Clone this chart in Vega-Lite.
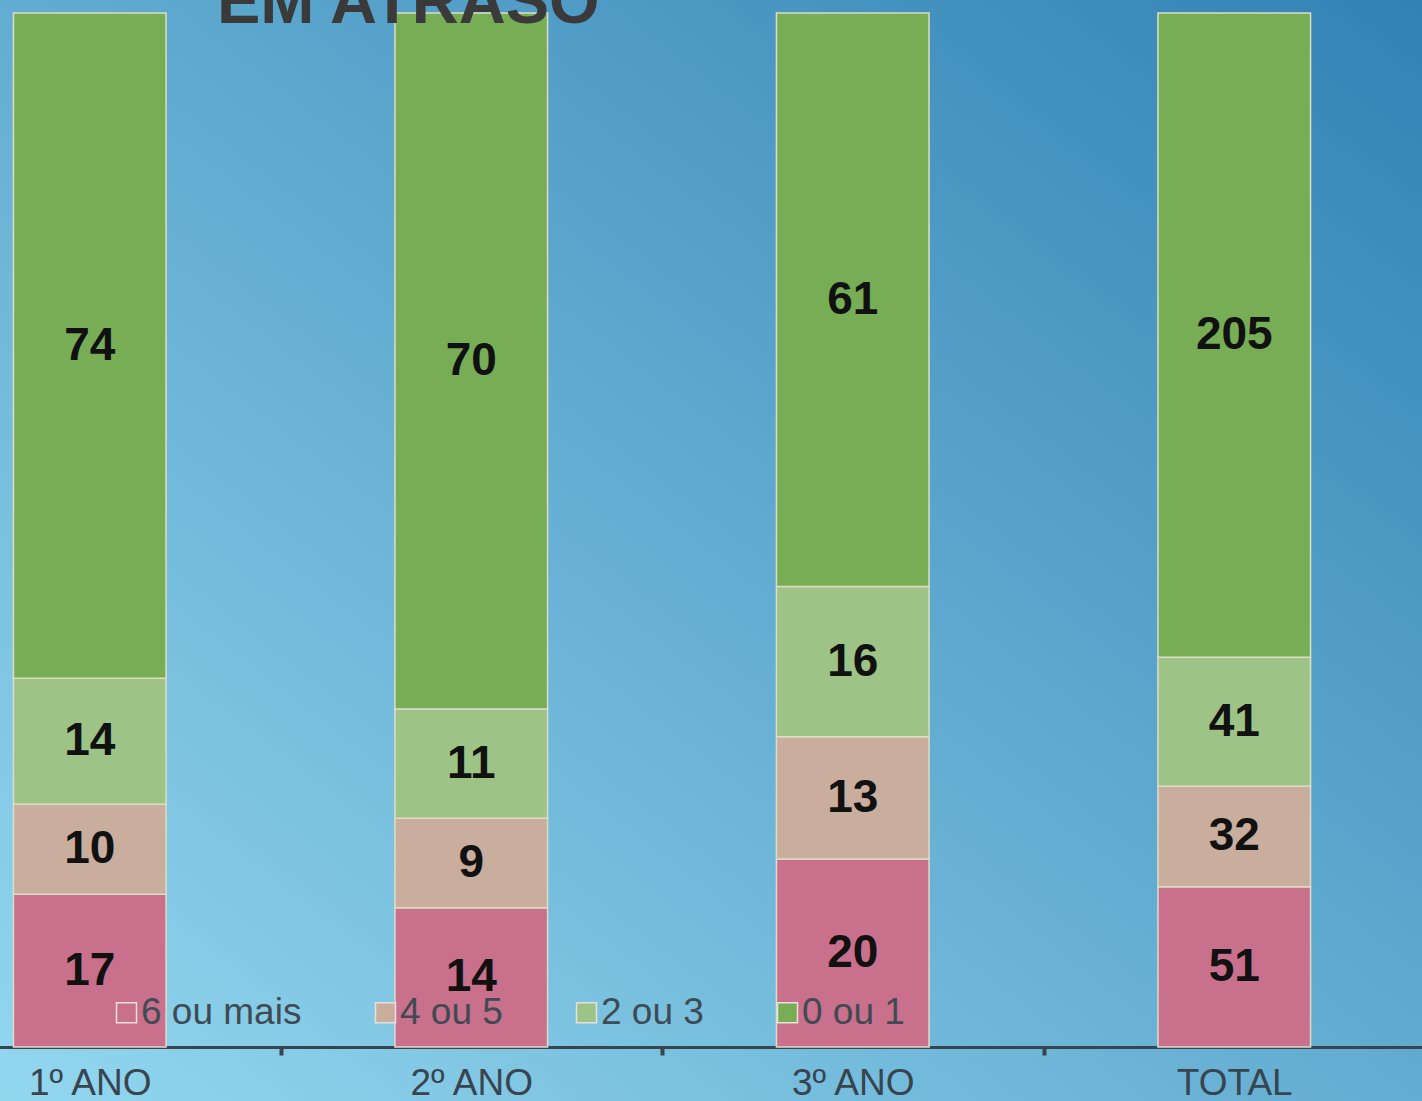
{
  "$schema": "https://vega.github.io/schema/vega-lite/v6.json",
  "width": 1422,
  "height": 1101,
  "autosize": {"type": "none"},
  "padding": 0,
  "background": "#62acd0",
  "config": {
    "font": "Liberation Sans",
    "view": {
      "stroke": null,
      "fill": {"gradient": "linear", "x1": 0, "y1": 1, "x2": 1, "y2": 0,
        "stops": [{"offset": 0, "color": "#93d7ef"}, {"offset": 1, "color": "#3282b4"}]}
    }
  },
  "datasets": {
    "atraso": [
      {"ano": "1º ANO", "faixa": "6 ou mais", "n": 17},
      {"ano": "1º ANO", "faixa": "4 ou 5", "n": 10},
      {"ano": "1º ANO", "faixa": "2 ou 3", "n": 14},
      {"ano": "1º ANO", "faixa": "0 ou 1", "n": 74},
      {"ano": "2º ANO", "faixa": "6 ou mais", "n": 14},
      {"ano": "2º ANO", "faixa": "4 ou 5", "n": 9},
      {"ano": "2º ANO", "faixa": "2 ou 3", "n": 11},
      {"ano": "2º ANO", "faixa": "0 ou 1", "n": 70},
      {"ano": "3º ANO", "faixa": "6 ou mais", "n": 20},
      {"ano": "3º ANO", "faixa": "4 ou 5", "n": 13},
      {"ano": "3º ANO", "faixa": "2 ou 3", "n": 16},
      {"ano": "3º ANO", "faixa": "0 ou 1", "n": 61},
      {"ano": "TOTAL", "faixa": "6 ou mais", "n": 51},
      {"ano": "TOTAL", "faixa": "4 ou 5", "n": 32},
      {"ano": "TOTAL", "faixa": "2 ou 3", "n": 41},
      {"ano": "TOTAL", "faixa": "0 ou 1", "n": 205}
    ],
    "titulo": [{"t": "EM ATRASO"}]
  },
  "encoding": {
    "x": {
      "field": "ano", "type": "nominal", "sort": null,
      "scale": {"domain": ["1º ANO", "2º ANO", "3º ANO", "TOTAL"], "range": [-101, 1425], "paddingInner": 0, "paddingOuter": 0},
      "axis": {"title": null, "orient": "bottom", "offset": -54, "domainColor": "#38444e", "domainWidth": 3, "tickBand": "extent", "tickColor": "#38444e", "tickWidth": 4, "tickSize": 8, "labelFontSize": 37, "labelColor": "#38444e", "labelPadding": 10, "labelBaseline": "top", "labelAngle": 0, "grid": false}
    }
  },
  "layer": [
    {
      "data": {"name": "atraso"},
      "transform": [
        {"stack": "n", "groupby": ["ano"], "sort": [{"field": "faixa", "order": "descending"}], "offset": "normalize", "as": ["s0", "s1"]}
      ],
      "mark": {"type": "bar", "stroke": "#dedcc6", "strokeWidth": 1.5, "width": {"band": 0.4}},
      "encoding": {
        "y": {"field": "s0", "type": "quantitative", "scale": {"domain": [0, 1], "range": [1047, 13], "nice": false, "zero": false}, "axis": null},
        "y2": {"field": "s1"},
        "color": {
          "field": "faixa", "type": "nominal",
          "scale": {"domain": ["6 ou mais", "4 ou 5", "2 ou 3", "0 ou 1"], "range": ["#c8708c", "#c9ad9d", "#9dc486", "#77ae55"]},
          "legend": {"title": null, "orient": "none", "legendX": 108, "legendY": 994, "direction": "horizontal", "symbolType": "square", "symbolSize": 400, "symbolStrokeColor": "#eadede", "symbolStrokeWidth": 1.5, "labelFontSize": 37, "labelColor": "#404a52", "labelOffset": -4, "columnPadding": 65, "padding": 0, "labelLimit": 0}
        }
      }
    },
    {
      "data": {"name": "atraso"},
      "transform": [
        {"stack": "n", "groupby": ["ano"], "sort": [{"field": "faixa", "order": "descending"}], "offset": "normalize", "as": ["s0", "s1"]},
        {"calculate": "(datum.s0 + datum.s1) / 2", "as": "mid"}
      ],
      "mark": {"type": "text", "fontSize": 46, "fontWeight": "bold", "color": "#111111"},
      "encoding": {
        "y": {"field": "mid", "type": "quantitative"},
        "text": {"field": "n", "type": "quantitative"}
      }
    },
    {
      "data": {"name": "titulo"},
      "mark": {"type": "text", "fontSize": 65, "fontWeight": "bold", "color": "#3a3a3a", "align": "center", "baseline": "alphabetic", "dx": -63, "dy": 10},
      "encoding": {
        "x": {"datum": "2º ANO"},
        "y": {"datum": 1},
        "text": {"field": "t", "type": "nominal"}
      }
    }
  ]
}
